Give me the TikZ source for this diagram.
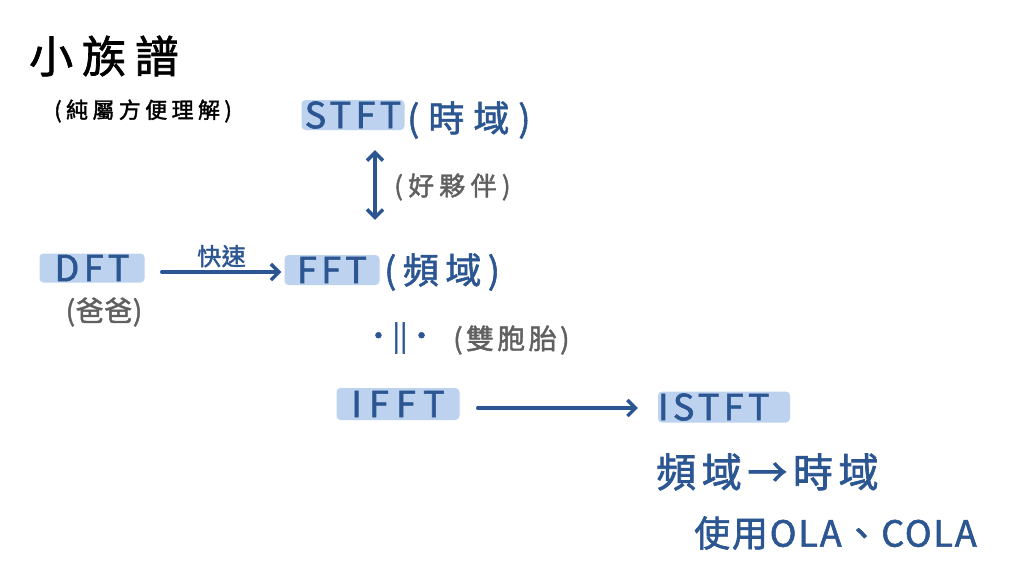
\documentclass[tikz,border=0pt]{standalone}
\usepackage{fontspec}
\setmainfont{Noto Sans CJK TC}
\newfontfamily\hand[FakeBold=1.6]{Noto Sans CJK TC}
\newcommand\hf[2]{\hand\fontsize{#1}{#1}\selectfont\addfontfeature{LetterSpace=#2}}
\usetikzlibrary{arrows.meta,calc}
\definecolor{inkblue}{HTML}{2C5692}
\definecolor{hilite}{HTML}{BDD2EE}
\definecolor{inkgray}{HTML}{606060}
\tikzset{
  hb/.tip={Straight Barb[length=8pt,width=16pt,line width=3.4pt]},
  hl/.style={fill=hilite, rounded corners=4pt, inner sep=0pt, text=inkblue,
    font=\hf{36}{12}},
  bluetext/.style={text=inkblue, inner sep=0pt, font=\hf{36}{25}},
  graytext/.style={text=inkgray, inner sep=0pt, font=\hf{26}{20}},
  arr/.style={draw=inkblue, line width=3.4pt, line cap=round, -{hb}},
  darr/.style={draw=inkblue, line width=3.4pt, line cap=round, {hb}-{hb}},
}
\begin{document}
\begin{tikzpicture}[x=1pt,y=-1pt]
\useasboundingbox[fill=white] (0,0) rectangle (1024,584);
% title
\node[anchor=west, inner sep=0pt, font=\hf{44}{20}] (title) at (29,56) {小族譜};
\node[anchor=west, inner sep=0pt, font=\hf{22}{20}] (sub) at (54,111) {(純屬方便理解)};
% STFT
\node[hl, minimum width=103pt, minimum height=30pt] (stft) at (353,115) {STFT};
\node[bluetext, anchor=west] (stftd) at (407,120) {(時域)};
% FFT
\node[hl, minimum width=95pt, minimum height=30pt] (fft) at (332,270) {FFT};
\node[bluetext, anchor=west, font=\hf{36}{18}] (fftd) at (384,272) {(頻域)};
% DFT
\node[hl, minimum width=105pt, minimum height=29pt] (dft) at (92,268) {DFT};
\node[graytext, font=\hf{28}{2}] (dftd) at (104,312) {(爸爸)};
% double arrow
\coordinate (da1) at ($(stft.south)+(22pt,-20pt)$);
\coordinate (da2) at ($(fft.north)+(43pt,35pt)$);
\draw[darr] (da1) -- (da2);
\node[graytext, anchor=west] (pal) at (394,187) {(好夥伴)};
% DFT -> FFT
\draw[arr] ($(dft.east)+(17pt,-4pt)$) -- node[above=3pt, text=inkblue, inner sep=0pt, font=\hf{24}{2}] (fast) {快速} ($(fft.west)+(-3pt,-2pt)$);
% twins
\node[text=inkblue, inner sep=0pt, font=\hf{28}{0}] (twin) at (400,338) {·||·};
\node[graytext, anchor=west, font=\hf{28}{12}] (twind) at (453,340) {(雙胞胎)};
% IFFT
\node[hl, minimum width=123pt, minimum height=32pt, font=\hf{36}{20}] (ifft) at (398,404) {IFFT};
% ISTFT
\node[hl, minimum width=132pt, minimum height=31pt, text width=132pt, align=left] (istft) at (724,407) {ISTFT};
\draw[arr] ($(ifft.east)+(18pt,-4pt)$) -- ($(istft.west)+(-20pt,-1pt)$);
\node[bluetext, anchor=west, font=\hf{40}{14}] (conv) at (656,472) {頻域→時域};
\node[bluetext, anchor=west, font=\hf{36}{5}] (ola) at (694,533) {使用OLA、COLA};
\end{tikzpicture}
\end{document}
